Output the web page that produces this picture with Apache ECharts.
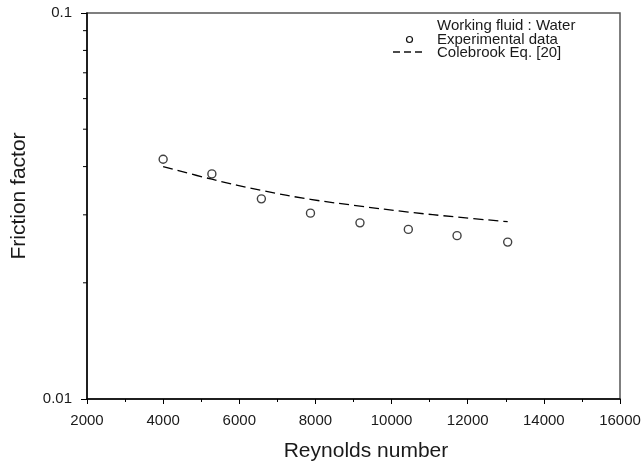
<!DOCTYPE html>
<html>
<head>
<meta charset="utf-8">
<script src="https://cdn.jsdelivr.net/npm/echarts@6/dist/echarts.min.js"></script>
<style>html,body{margin:0;padding:0;background:#fff;}#c{width:642px;height:464px;}</style>
</head>
<body>
<div id="c"></div>
<script>
// ---- data ----
var expRe = [4000, 5280, 6580, 7870, 9170, 10440, 11720, 13050];
var expF  = [0.0418, 0.0383, 0.0330, 0.0303, 0.0286, 0.0275, 0.0265, 0.0255];
var colRe = [4000, 5280, 6580, 7870, 9170, 10440, 11720, 13050];
var colF  = [0.0400, 0.0371, 0.0347, 0.0329, 0.0316, 0.0305, 0.0296, 0.0288];
var xMin = 2000, xMax = 16000, xStep = 2000;
var yMin = 0.01, yMax = 0.1;
var yMinorTicks = [0.02, 0.03, 0.04, 0.05, 0.06, 0.07, 0.08, 0.09];
var legendTitle = 'Working fluid : Water';
var legendExp = 'Experimental data';
var legendCol = 'Colebrook Eq. [20]';

function pairs(xs, ys){ return xs.map(function(x,i){ return [x, ys[i]]; }); }

var font = 'Liberation Sans, Arial, Helvetica, sans-serif';
var chart = echarts.init(document.getElementById('c'), null, {renderer:'canvas'});
chart.setOption({
  backgroundColor: '#fff',
  animation: false,
  grid: { left: 87, right: 22, top: 13, bottom: 65, show: true, borderColor: '#555', borderWidth: 1.5,
          containLabel: false, outerBoundsMode: 'none' },
  xAxis: {
    type: 'value', min: xMin, max: xMax, interval: xStep,
    name: 'Reynolds number', nameLocation: 'middle', nameGap: 42,
    nameTextStyle: { fontSize: 21, color: '#1a1a1a', fontFamily: font, padding: [0,0,0,25] },
    axisLine: { show: true, onZero: false, lineStyle: { color: '#000', width: 1.5 } },
    axisTick: { show: true, inside: false, length: 5, lineStyle: { color: '#000', width: 1 } },
    minorTick: { show: true, splitNumber: 2, length: 3, lineStyle: { color: '#000', width: 1 } },
    axisLabel: { fontSize: 15, color: '#1a1a1a', fontFamily: font, margin: 14,
      formatter: function(v){ return String(v); } },
    splitLine: { show: false }
  },
  yAxis: {
    type: 'log', logBase: 10, min: yMin, max: yMax,
    name: 'Friction factor', nameLocation: 'middle', nameGap: 57,
    nameTextStyle: { fontSize: 21, color: '#1a1a1a', fontFamily: font, padding: [0,0,0,20] },
    axisLine: { show: true, onZero: false, lineStyle: { color: '#000', width: 1.5 } },
    axisTick: { show: true, inside: false, length: 6, lineStyle: { color: '#000', width: 1 } },
    minorTick: { show: false },
    axisLabel: { fontSize: 15, color: '#1a1a1a', fontFamily: font, margin: 15,
      formatter: function(v){ return String(+v.toPrecision(3)); } },
    splitLine: { show: false }
  },
  series: [
    {
      type: 'custom',
      silent: true,
      clip: false,
      data: yMinorTicks.map(function(v){ return [xMin, v]; }),
      renderItem: function(params, api){
        var p = api.coord([api.value(0), api.value(1)]);
        return { type: 'line', shape: { x1: p[0]-4, y1: p[1], x2: p[0], y2: p[1] },
                 style: { stroke: '#000', lineWidth: 1 } };
      }
    },
    {
      name: legendCol,
      type: 'line',
      data: pairs(colRe, colF),
      smooth: 0.4,
      showSymbol: false,
      symbol: 'none',
      lineStyle: { color: '#000', width: 1.3, type: [10, 5] },
      z: 2
    },
    {
      name: legendExp,
      type: 'scatter',
      data: pairs(expRe, expF),
      symbol: 'circle',
      symbolSize: 8,
      itemStyle: { color: '#fff', borderColor: '#111', borderWidth: 1.4 },
      z: 3
    }
  ],
  graphic: [
    { type: 'text', x: 437, y: 26, style: { text: legendTitle, fill: '#1a1a1a', font: '15px ' + font, verticalAlign: 'middle' } },
    { type: 'circle', shape: { cx: 409.5, cy: 39.5, r: 3 }, style: { fill: '#fff', stroke: '#111', lineWidth: 1.2 } },
    { type: 'text', x: 437, y: 39.5, style: { text: legendExp, fill: '#1a1a1a', font: '15px ' + font, verticalAlign: 'middle' } },
    { type: 'line', shape: { x1: 393, y1: 52, x2: 424, y2: 52 }, style: { stroke: '#111', lineWidth: 1.3, lineDash: [7, 4] } },
    { type: 'text', x: 437, y: 53, style: { text: legendCol, fill: '#1a1a1a', font: '15px ' + font, verticalAlign: 'middle' } }
  ]
});
</script>
</body>
</html>
